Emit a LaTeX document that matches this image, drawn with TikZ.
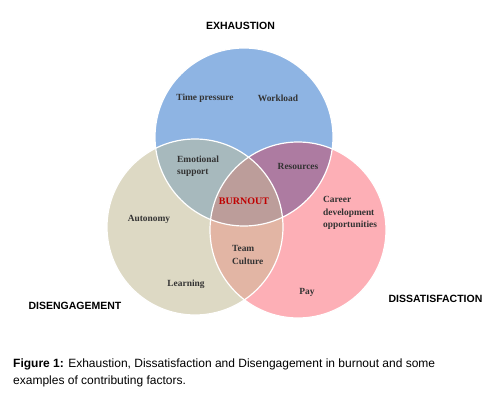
\documentclass[tikz,border=0pt]{standalone}
\usepackage{fontspec}
\setmainfont{Liberation Serif}
\setsansfont{Liberation Sans}
\usetikzlibrary{positioning}
\definecolor{exhblue}{HTML}{8EB4E3}
\definecolor{disbeige}{HTML}{DDD9C4}
\definecolor{satpink}{HTML}{FDAFB6}
\definecolor{bluebeige}{HTML}{A7B9BD}
\definecolor{bluepink}{HTML}{AD7BA1}
\definecolor{beigepink}{HTML}{E2B5A4}
\definecolor{allthree}{HTML}{BC9D9A}
\definecolor{burnred}{HTML}{C00000}

\begin{document}
\begin{tikzpicture}[
        x=1pt, y=-1pt,
        factor/.style = {inner sep=0pt, align=left, text=black!80, font=\fontsize{9.4}{12.5}\selectfont\bfseries},
        head/.style = {inner sep=0pt, font=\sffamily\bfseries\fontsize{10.5}{12}\selectfont},
        ring/.style = {draw=white, line width=1.2pt},
    ]
        \useasboundingbox (0,0) rectangle (499,412);
        \coordinate (exh) at (244,137);
        \coordinate (dis) at (195,227);
        \coordinate (sat) at (298,230);
        % the three circles
        \fill[exhblue] (exh) circle[radius=89pt];
        \fill[disbeige] (dis) circle[radius=88pt];
        \fill[satpink] (sat) circle[radius=88pt];
        % overlaps
        \begin{scope}
            \clip (exh) circle[radius=89pt];
            \fill[bluebeige] (dis) circle[radius=88pt];
            \fill[bluepink] (sat) circle[radius=88pt];
        \end{scope}
        \begin{scope}
            \clip (dis) circle[radius=88pt];
            \fill[beigepink] (sat) circle[radius=88pt];
            \clip (sat) circle[radius=88pt];
            \fill[allthree] (exh) circle[radius=89pt];
        \end{scope}
        \draw[ring] (exh) circle[radius=89pt];
        \draw[ring] (dis) circle[radius=88pt];
        \draw[ring] (sat) circle[radius=88pt];

        \node[head] (exhaustion) at (240.5,26) {EXHAUSTION};
        \node[head] (disengagement) at (75,306) {DISENGAGEMENT};
        \node[head] (dissatisfaction) at (435.5,299) {DISSATISFACTION};

        \node[factor] (time) at (205,98) {Time pressure};
        \node[factor] (workload) at (278,98) {Workload};
        \node[factor, anchor=west] (emotional) at (177,166) {Emotional\\support};
        \node[factor] (resources) at (298,166) {Resources};
        \node[factor, text=burnred, font=\fontsize{10}{12}\selectfont\bfseries] (burnout) at (244,201) {BURNOUT};
        \node[factor] (autonomy) at (149,219) {Autonomy};
        \node[factor, anchor=west] (career) at (323,213) {Career\\development\\opportunities};
        \node[factor, anchor=west] (team) at (232,255) {Team\\Culture};
        \node[factor] (learning) at (186,284) {Learning};
        \node[factor] (pay) at (307,292) {Pay};

        \node[inner sep=0pt, anchor=base west, align=left, font=\sffamily\fontsize{12}{17}\selectfont] (caption) at (13,384.5)
            {\textbf{Figure 1:} Exhaustion, Dissatisfaction and Disengagement in burnout and some\\examples of contributing factors.};
    \end{tikzpicture}
\end{document}
